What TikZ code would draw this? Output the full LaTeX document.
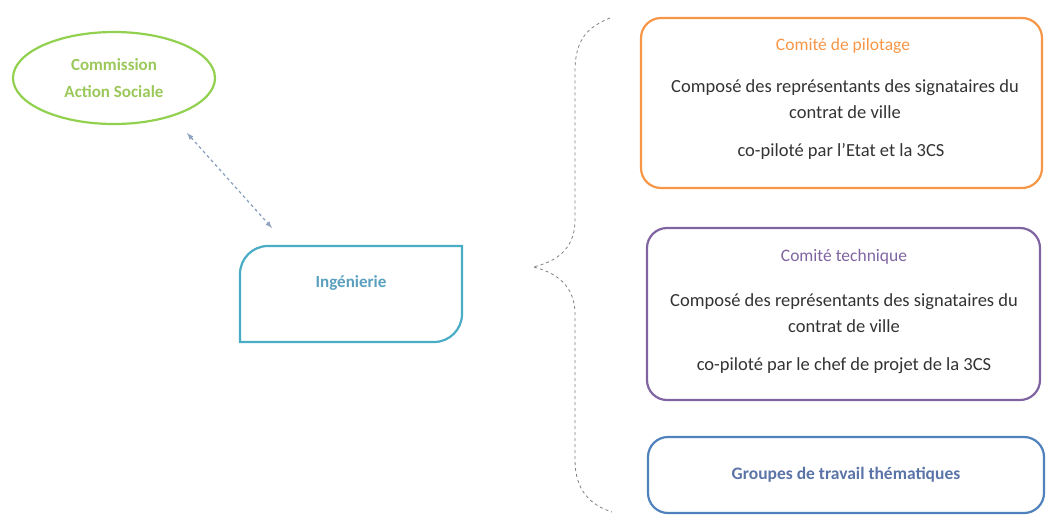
\documentclass[tikz,border=0pt]{standalone}
\usepackage{fontspec}
\setmainfont{Carlito}
\usetikzlibrary{positioning}
\usetikzlibrary{arrows}
\usetikzlibrary{shapes.geometric}

\definecolor{vertcas}{HTML}{92D050}
\definecolor{verttexte}{HTML}{9BC85A}
\definecolor{ingbleu}{HTML}{4BACC6}
\definecolor{ingtexte}{HTML}{5A9FBF}
\definecolor{copil}{HTML}{F79646}
\definecolor{cotech}{HTML}{8064A2}
\definecolor{groupes}{HTML}{4F81BD}
\definecolor{groupestexte}{HTML}{5B74A8}
\definecolor{lien}{HTML}{8FA3BF}
\definecolor{corps}{HTML}{333333}

\tikzset{
  comite/.style={draw,line width=2.2pt,rounded corners=20pt},
  titre/.style={font=\fontsize{17.5}{20}\selectfont},
  corpstexte/.style={text=corps,align=center,font=\fontsize{18.5}{26}\selectfont}
}

\begin{document}
\begin{tikzpicture}[x=1pt,y=-1pt]
       \useasboundingbox (0,0) rectangle (1048,517);
       \node[ellipse,draw=vertcas,line width=2.2pt,minimum width=202pt,minimum height=92pt,inner sep=0pt,
             text=verttexte,align=center,font=\bfseries\fontsize{17}{27}\selectfont] (cas) at (114,78) {Commission\\Action Sociale};
       \draw[ingbleu,line width=2.2pt] (240,342) -- (240,274) .. controls (240,258.5) and (252.5,246) .. (268,246)
             -- (462,246) -- (462,314) .. controls (462,329.5) and (449.5,342) .. (434,342) -- cycle;
       \node[text=ingtexte,font=\bfseries\fontsize{17}{20}\selectfont] (ing) at (351,283) {Ingénierie};
       \coordinate (casbas) at (187,133);
       \coordinate (inghaut) at (272,228);
       \draw[latex-latex,lien,dashed,line width=1.3pt] (casbas) -- (inghaut);
       \draw[gray,dashed,line width=0.8pt] (610,18) .. controls (585,28) and (575,42) .. (575,72) -- (575,220)
             .. controls (575,250) and (555,262) .. (533,267)
             .. controls (555,272) and (575,285) .. (575,314) -- (575,460)
             .. controls (575,490) and (590,505) .. (612,512);
       % comite de pilotage
       \node[comite,draw=copil,minimum width=401pt,minimum height=170pt] (copil) at (841.5,103) {};
       \node[titre,text=copil] (copiltitre) at (843,46) {Comité de pilotage};
       \node[corpstexte] (copilcomp) at (845,99) {Composé des représentants des signataires du\\contrat de ville};
       \node[corpstexte] (copilpar) at (841,151) {co-piloté par l’Etat et la 3CS};
       % comite technique
       \node[comite,draw=cotech,minimum width=393pt,minimum height=172pt] (cotech) at (843.5,314) {};
       \node[titre,text=cotech] (cotechtitre) at (844,257) {Comité technique};
       \node[corpstexte] (cotechcomp) at (844,313) {Composé des représentants des signataires du\\contrat de ville};
       \node[corpstexte] (cotechpar) at (844,366) {co-piloté par le chef de projet de la 3CS};
       % groupes de travail
       \node[comite,draw=groupes,minimum width=396pt,minimum height=76pt,text=groupestexte,
             font=\bfseries\fontsize{17.5}{20}\selectfont] (groupes) at (846,475) {Groupes de travail thématiques};
\end{tikzpicture}
\end{document}
